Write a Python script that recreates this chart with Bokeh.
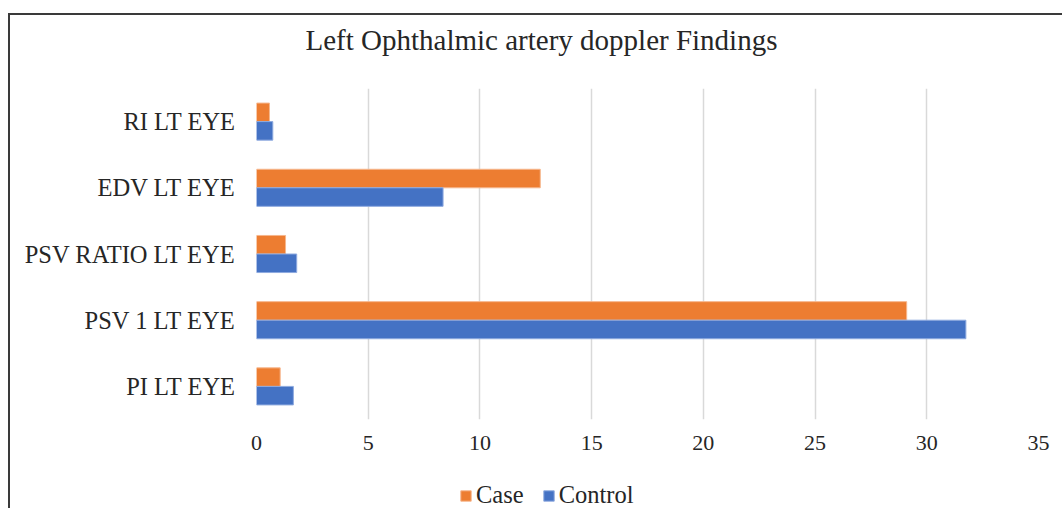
from bokeh.plotting import figure
from bokeh.layouts import column
from bokeh.models import (ColumnDataSource, FactorRange, Range1d, FixedTicker,
                          Legend, LegendItem, Title)
from bokeh.transform import dodge
from bokeh.embed import file_html
from bokeh.resources import INLINE

categories = ["PI LT EYE", "PSV 1 LT EYE", "PSV RATIO LT EYE", "EDV LT EYE", "RI LT EYE"]
case_vals = [1.06, 29.1, 1.3, 12.7, 0.58]
control_vals = [1.65, 31.75, 1.8, 8.35, 0.73]
x_ticks = [0, 5, 10, 15, 20, 25, 30, 35]
title_text = "Left Ophthalmic artery doppler Findings"
series_names = ["Case", "Control"]

FONT = "Liberation Serif"
CASE_COLOR = "#ED7D31"
CONTROL_COLOR = "#4472C4"
CASE_EDGE = "#f6b68c"
CONTROL_EDGE = "#8eaadf"

src = ColumnDataSource(dict(cat=categories, case=case_vals, control=control_vals))

p = figure(width=1052, height=444, y_range=FactorRange(*categories),
           x_range=Range1d(0, 35), output_backend="svg", toolbar_location=None,
           min_border_left=246, min_border_right=24, min_border_top=73,
           min_border_bottom=40)

p.hbar(y=dodge("cat", 0.14, range=p.y_range), right="case", left=0, height=0.28,
       source=src, fill_color=CASE_COLOR, line_color=CASE_EDGE, line_width=1)
p.hbar(y=dodge("cat", -0.14, range=p.y_range), right="control", left=0, height=0.28,
       source=src, fill_color=CONTROL_COLOR, line_color=CONTROL_EDGE, line_width=1)

p.outline_line_color = None
p.background_fill_color = "white"
p.border_fill_color = "white"

p.xgrid.ticker = FixedTicker(ticks=x_ticks)
p.xgrid.grid_line_color = "#d9d9d9"
p.xgrid.grid_line_width = 1.5
p.ygrid.grid_line_color = None

p.xaxis.ticker = FixedTicker(ticks=x_ticks)
p.xaxis.axis_line_color = None
p.xaxis.major_tick_line_color = None
p.xaxis.minor_tick_line_color = None
p.xaxis.major_label_text_font = FONT
p.xaxis.major_label_text_font_size = "22px"
p.xaxis.major_label_text_color = "#262626"
p.xaxis.major_label_standoff = 10

p.yaxis.axis_line_color = None
p.yaxis.major_tick_line_color = None
p.yaxis.minor_tick_line_color = None
p.yaxis.major_label_text_font = FONT
p.yaxis.major_label_text_font_size = "24.5px"
p.yaxis.major_label_text_color = "#262626"
p.yaxis.major_label_standoff = 15

# spacer between frame and title
p.add_layout(Title(text=" ", text_font=FONT, text_font_size="28px", standoff=0), "above")
p.add_layout(Title(text=title_text, text_font=FONT, text_font_size="29px",
                   text_font_style="normal", text_color="#262626", align="left",
                   offset=49, standoff=0), "above")

# legend strip below the chart
q = figure(width=1052, height=49, x_range=Range1d(0, 1), y_range=Range1d(0, 1),
           output_backend="svg", toolbar_location=None, min_border=0)
q.axis.visible = False
q.grid.visible = False
q.outline_line_color = None
q.border_fill_color = "white"
swatch = ColumnDataSource(dict(y=[-5.0], right=[0.0]))
lr_case = q.hbar(y="y", right="right", left=0, height=0.1, source=swatch,
                 fill_color=CASE_COLOR, line_color=CASE_EDGE)
lr_ctrl = q.hbar(y="y", right="right", left=0, height=0.1, source=swatch,
                 fill_color=CONTROL_COLOR, line_color=CONTROL_EDGE)

legend = Legend(items=[LegendItem(label=series_names[0], renderers=[lr_case]),
                       LegendItem(label=series_names[1], renderers=[lr_ctrl])],
                orientation="horizontal", location=(203, -1),
                label_text_font=FONT, label_text_font_size="24.5px",
                label_text_color="#262626", glyph_width=13, glyph_height=13,
                label_height=13, label_width=10, spacing=18, padding=0, margin=0,
                label_standoff=4, border_line_color=None, background_fill_alpha=0)
q.add_layout(legend, "center")

layout = column(p, q, spacing=0)
layout.margin = (13, 0, 0, 8)
layout.styles = {"border-left": "2px solid #3a3a3a", "border-top": "2px solid #3a3a3a"}

open("out.html", "w").write(file_html(layout, INLINE))
